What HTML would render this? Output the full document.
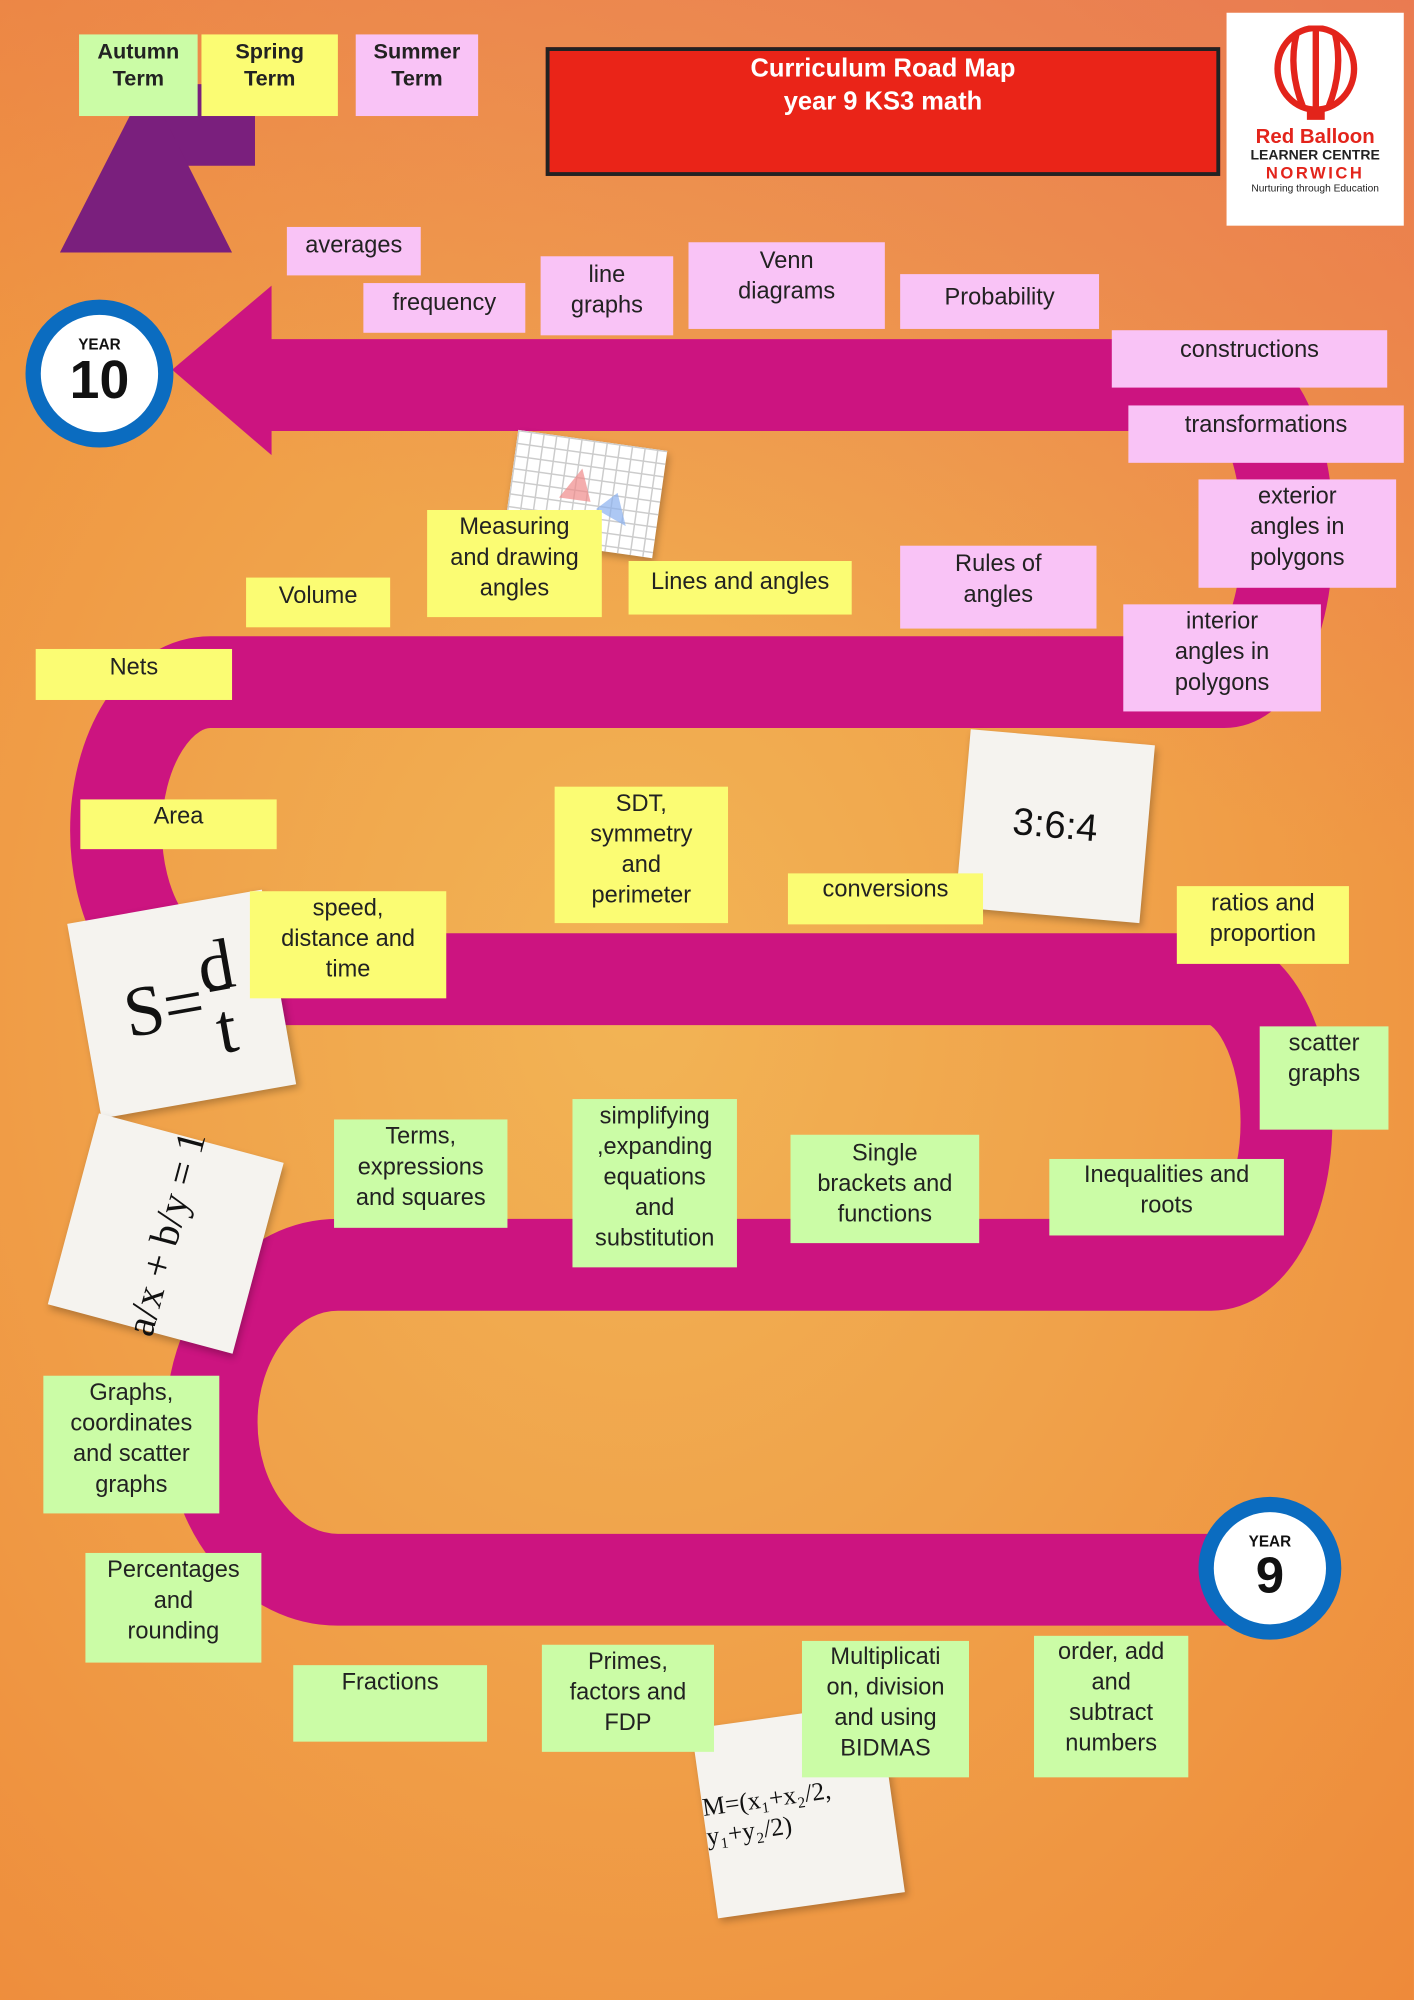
<!DOCTYPE html>
<html><head><meta charset="utf-8"><style>
html,body{margin:0;padding:0;width:1414px;height:2000px;overflow:hidden}
#w{position:absolute;left:0;top:0;width:1109px;height:1569px;transform:scale(1.275);transform-origin:0 0;
background:radial-gradient(ellipse at 45% 50%,#f2b455 0%,#f0a24a 45%,#ee8a3a 100%);font-family:"Liberation Sans",sans-serif;overflow:hidden}
#bg2{position:absolute;inset:0;background:linear-gradient(200deg,rgba(230,110,100,.55) 0%,rgba(230,110,100,0) 35%)}
.b{position:absolute;display:flex;align-items:flex-start;justify-content:center;text-align:center;font-size:18.5px;line-height:24px;color:#222;box-sizing:border-box;padding-top:6px}
.p{background:#f9c3f6}.y{background:#fbfc73}.g{background:#cbfca6}
.n{position:absolute;background:#f5f3ef;box-shadow:2px 3px 6px rgba(0,0,0,.25);font-family:"Liberation Serif",serif;color:#111;display:flex;align-items:center;justify-content:center}
.yr{position:absolute;border-radius:50%;background:#fff;border:12px solid #0b6cc0;box-sizing:border-box;text-align:center;font-weight:bold;color:#111}
</style></head><body><div id="w"><div id="bg2"></div>
<svg width="1109" height="1569" style="position:absolute;left:0;top:0">
<path d="M200 302 L960 302 A50 116.5 0 0 1 960 535 L165 535 A74 116.5 0 0 0 165 768 L950 768 A59 112 0 0 1 950 992 L265 992 A99 123.5 0 0 0 265 1239 L990 1239" fill="none" stroke="#cc1480" stroke-width="72"/>
<polygon points="135,290 213,224 213,357" fill="#cc1480"/>
<rect x="126" y="66" width="74" height="64" fill="#7a1f7d"/>
<polygon points="115,65 47,198 182,198" fill="#7a1f7d"/>
</svg>
<div class="b g" style="left:62px;top:27px;width:93px;height:64px;font-weight:bold;font-size:17px;line-height:21px;padding-top:3px">Autumn<br>Term</div>
<div class="b y" style="left:158px;top:27px;width:107px;height:64px;font-weight:bold;font-size:17px;line-height:21px;padding-top:3px">Spring<br>Term</div>
<div class="b p" style="left:279px;top:27px;width:96px;height:64px;font-weight:bold;font-size:17px;line-height:21px;padding-top:3px">Summer<br>Term</div>
<div class="b" style="left:428px;top:37px;width:529px;height:101px;background:#ea2418;border:3px solid #222;color:#fff;font-weight:bold;font-size:20px;line-height:26px;padding-top:1px">Curriculum Road Map<br>year 9 KS3 math</div>
<div style="position:absolute;left:962px;top:10px;width:139px;height:167px;background:#fff;text-align:center">
<svg width="80" height="75" style="margin-top:10px"><ellipse cx="40" cy="34" rx="30" ry="32" fill="none" stroke="#e3241b" stroke-width="5"/><path d="M40 2 V66 M25 6 Q18 34 30 64 M55 6 Q62 34 50 64" stroke="#e3241b" stroke-width="5" fill="none"/><rect x="33" y="66" width="14" height="8" fill="#e3241b"/></svg>
<div style="color:#e3241b;font-weight:bold;font-size:16px;line-height:16px">Red Balloon</div>
<div style="color:#222;font-size:11px;font-weight:bold;line-height:13px">LEARNER CENTRE</div>
<div style="color:#e3241b;font-weight:bold;font-size:13px;letter-spacing:2px;line-height:14px">NORWICH</div>
<div style="font-size:8px;color:#222">Nurturing through Education</div></div>
<div class="yr" style="left:20px;top:235px;width:116px;height:116px"><div style="font-size:12px;margin-top:16px">YEAR</div><div style="font-size:42px;line-height:42px">10</div></div>
<div class="yr" style="left:940px;top:1174px;width:112px;height:112px"><div style="font-size:12px;margin-top:16px">YEAR</div><div style="font-size:40px;line-height:40px">9</div></div>
<div class="n" style="left:400px;top:345px;width:118px;height:85px;transform:rotate(8deg);background:#fff;background-image:linear-gradient(#ccc 1px,transparent 1px),linear-gradient(90deg,#ccc 1px,transparent 1px);background-size:10px 10px"><svg width="80" height="50"><polygon points="20,30 35,5 45,30" fill="#f08a8a" opacity=".7"/><polygon points="50,35 65,20 75,45" fill="#8ab0f0" opacity=".7"/></svg></div>
<div class="n" style="left:755px;top:578px;width:145px;height:140px;transform:rotate(5deg);font-family:'Liberation Sans',sans-serif;font-size:30px">3:6:4</div>
<div class="n" style="left:65px;top:710px;width:155px;height:155px;transform:rotate(-10deg);font-size:56px">S=<span style="display:inline-block;text-align:center;line-height:50px">d<br><span style="border-top:3px solid #111">t</span></span></div>
<div class="n" style="left:55px;top:890px;width:150px;height:155px;transform:rotate(15deg);font-size:32px"><span style="transform:rotate(-90deg);display:inline-block;white-space:nowrap">a/x + b/y = 1</span></div>
<div class="n" style="left:552px;top:1345px;width:148px;height:150px;transform:rotate(-8deg);font-size:20px">M=(x₁+x₂/2, y₁+y₂/2)</div>
<div class="b p" style="left:225px;top:178px;width:105px;height:38px;padding-top:2px">averages</div>
<div class="b p" style="left:285px;top:222px;width:127px;height:39px;padding-top:3px">frequency</div>
<div class="b p" style="left:424px;top:201px;width:104px;height:62px;padding-top:2px">line<br>graphs</div>
<div class="b p" style="left:540px;top:190px;width:154px;height:68px;padding-top:2px">Venn<br>diagrams</div>
<div class="b p" style="left:706px;top:215px;width:156px;height:43px">Probability</div>
<div class="b p" style="left:872px;top:259px;width:216px;height:45px;padding-top:3px">constructions</div>
<div class="b p" style="left:885px;top:318px;width:216px;height:45px;padding-top:3px">transformations</div>
<div class="b p" style="left:940px;top:376px;width:155px;height:85px;padding-top:1px">exterior<br>angles in<br>polygons</div>
<div class="b p" style="left:706px;top:428px;width:154px;height:65px;padding-top:2px">Rules of<br>angles</div>
<div class="b p" style="left:881px;top:474px;width:155px;height:84px;padding-top:1px">interior<br>angles in<br>polygons</div>
<div class="b y" style="left:193px;top:453px;width:113px;height:39px;padding-top:2px">Volume</div>
<div class="b y" style="left:335px;top:400px;width:137px;height:84px;padding-top:1px">Measuring<br>and drawing<br>angles</div>
<div class="b y" style="left:493px;top:440px;width:175px;height:42px;padding-top:4px">Lines and angles</div>
<div class="b y" style="left:28px;top:509px;width:154px;height:40px;padding-top:2px">Nets</div>
<div class="b y" style="left:63px;top:627px;width:154px;height:39px;padding-top:1px">Area</div>
<div class="b y" style="left:435px;top:617px;width:136px;height:107px;padding-top:1px">SDT,<br>symmetry<br>and<br>perimeter</div>
<div class="b y" style="left:618px;top:685px;width:153px;height:40px;padding-top:0">conversions</div>
<div class="b y" style="left:923px;top:695px;width:135px;height:61px;padding-top:1px">ratios and<br>proportion</div>
<div class="b y" style="left:196px;top:699px;width:154px;height:84px;padding-top:1px">speed,<br>distance and<br>time</div>
<div class="b g" style="left:988px;top:805px;width:101px;height:81px;padding-top:1px">scatter<br>graphs</div>
<div class="b g" style="left:262px;top:878px;width:136px;height:85px;padding-top:1px">Terms,<br>expressions<br>and squares</div>
<div class="b g" style="left:449px;top:862px;width:129px;height:132px;padding-top:1px">simplifying<br>,expanding<br>equations<br>and<br>substitution</div>
<div class="b g" style="left:620px;top:890px;width:148px;height:85px;padding-top:2px">Single<br>brackets and<br>functions</div>
<div class="b g" style="left:823px;top:909px;width:184px;height:60px;padding-top:0">Inequalities and<br>roots</div>
<div class="b g" style="left:34px;top:1079px;width:138px;height:108px;padding-top:1px">Graphs,<br>coordinates<br>and scatter<br>graphs</div>
<div class="b g" style="left:67px;top:1218px;width:138px;height:86px;padding-top:1px">Percentages<br>and<br>rounding</div>
<div class="b g" style="left:230px;top:1306px;width:152px;height:60px;padding-top:1px">Fractions</div>
<div class="b g" style="left:425px;top:1290px;width:135px;height:84px;padding-top:1px">Primes,<br>factors and<br>FDP</div>
<div class="b g" style="left:629px;top:1287px;width:131px;height:107px;padding-top:0">Multiplicati<br>on, division<br>and using<br>BIDMAS</div>
<div class="b g" style="left:811px;top:1283px;width:121px;height:111px;padding-top:0">order, add<br>and<br>subtract<br>numbers</div>
</div></body></html>
